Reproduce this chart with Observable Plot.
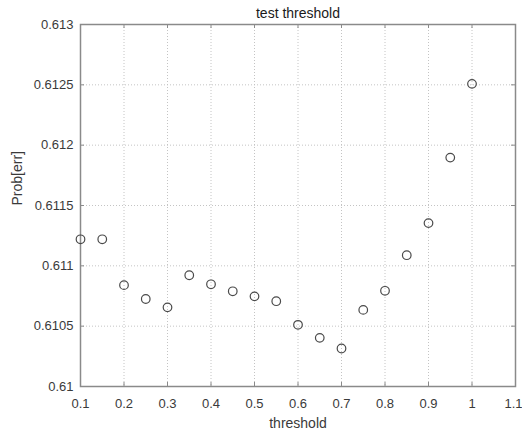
<!DOCTYPE html>
<html>
<head>
<meta charset="utf-8">
<script src="https://cdn.jsdelivr.net/npm/d3@7"></script>
<script src="https://cdn.jsdelivr.net/npm/@observablehq/plot@0.6"></script>
<style>
  html, body { margin: 0; padding: 0; background: #fff; }
  svg { display: block; }
</style>
</head>
<body>
<div id="chart"></div>
<script>
const thresholds = [0.1, 0.15, 0.2, 0.25, 0.3, 0.35, 0.4, 0.45, 0.5, 0.55, 0.6, 0.65, 0.7, 0.75, 0.8, 0.85, 0.9, 0.95, 1.0];
const probErr = [0.61122, 0.61122, 0.61084, 0.610725, 0.610656, 0.610922, 0.610847, 0.610789, 0.610747, 0.610707, 0.610511, 0.610403, 0.610315, 0.610635, 0.610793, 0.611088, 0.611354, 0.611897, 0.612508];
const xTicks = [0.1, 0.2, 0.3, 0.4, 0.5, 0.6, 0.7, 0.8, 0.9, 1, 1.1];
const xTickLabels = ["0.1", "0.2", "0.3", "0.4", "0.5", "0.6", "0.7", "0.8", "0.9", "1", "1.1"];
const yTicks = [0.61, 0.6105, 0.611, 0.6115, 0.612, 0.6125, 0.613];
const yTickLabels = ["0.61", "0.6105", "0.611", "0.6115", "0.612", "0.6125", "0.613"];
const titleText = "test threshold";
const xLabel = "threshold";
const yLabel = "Prob[err]";

const data = thresholds.map((t, i) => ({t, p: probErr[i]}));
const xLabelData = xTicks.map((t, i) => ({t, label: xTickLabels[i], last: i === xTicks.length - 1}));
const axisColor = "#8a8a8a";
const textColor = "#3a3a3a";
const gridColor = "#c4c4c4";
const tickLenY = 0.003 * 4 / 362;
const tickLenX = 1.0 * 4 / 435;

const chart = Plot.plot({
  width: 522,
  height: 434,
  marginLeft: 80,
  marginRight: 7,
  marginTop: 24,
  marginBottom: 48,
  style: {fontFamily: "Liberation Sans, Arial, sans-serif", background: "#fff"},
  x: {domain: [0.1, 1.1], axis: null},
  y: {domain: [0.61, 0.613], axis: null},
  marks: [
    Plot.ruleX(xTicks, {x: d => d, stroke: gridColor, strokeDasharray: "1,2"}),
    Plot.ruleY(yTicks, {y: d => d, stroke: gridColor, strokeDasharray: "1,2"}),
    Plot.text(xLabelData.filter(d => !d.last), {x: "t", text: "label", frameAnchor: "bottom", dy: 17, fontSize: 13, fill: textColor, lineAnchor: "middle"}),
    Plot.text(xLabelData.filter(d => d.last), {x: "t", text: "label", frameAnchor: "bottom", dy: 17, dx: -2, fontSize: 13, fill: textColor, lineAnchor: "middle"}),
    Plot.text(yTicks, {y: d => d, text: (d, i) => yTickLabels[i], frameAnchor: "left", dx: -7, textAnchor: "end", fontSize: 13, fill: textColor, lineAnchor: "middle"}),
    Plot.ruleX(xTicks, {x: d => d, y1: 0.61, y2: 0.61 + tickLenY, stroke: axisColor}),
    Plot.ruleX(xTicks, {x: d => d, y1: 0.613, y2: 0.613 - tickLenY, stroke: axisColor}),
    Plot.ruleY(yTicks, {y: d => d, x1: 0.1, x2: 0.1 + tickLenX, stroke: axisColor}),
    Plot.ruleY(yTicks, {y: d => d, x1: 1.1, x2: 1.1 - tickLenX, stroke: axisColor}),
    Plot.frame({stroke: axisColor, strokeWidth: 1.5}),
    Plot.dot(data, {x: "t", y: "p", r: 4.3, stroke: "#4a4a4a", strokeWidth: 1.2, fill: "none"}),
    Plot.text([titleText], {frameAnchor: "top", dy: -11, fontSize: 14, fill: "#1a1a1a", lineAnchor: "middle"}),
    Plot.text([xLabel], {frameAnchor: "bottom", dy: 37, fontSize: 14, fill: textColor, lineAnchor: "middle"}),
    Plot.text([yLabel], {frameAnchor: "left", dx: -63, rotate: -90, fontSize: 14, fill: textColor, lineAnchor: "middle"})
  ]
});
document.getElementById("chart").appendChild(chart);
</script>
</body>
</html>
